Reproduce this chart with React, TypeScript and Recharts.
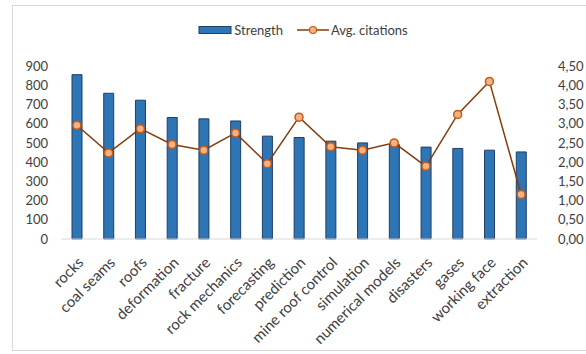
import {
  ComposedChart,
  Bar,
  Line,
  XAxis,
  YAxis,
  Legend,
} from "recharts";

const keywords = [
  "rocks",
  "coal seams",
  "roofs",
  "deformation",
  "fracture",
  "rock mechanics",
  "forecasting",
  "prediction",
  "mine roof control",
  "simulation",
  "numerical models",
  "disasters",
  "gases",
  "working face",
  "extraction",
];
const strength = [855, 758, 722, 632, 625, 614, 535, 528, 509, 500, 491, 478, 471, 462, 453];
const avgCitations = [2.96, 2.24, 2.87, 2.46, 2.31, 2.76, 1.96, 3.17, 2.4, 2.31, 2.5, 1.89, 3.24, 4.1, 1.16];
const leftTicks = [0, 100, 200, 300, 400, 500, 600, 700, 800, 900];
const rightTicks = [0, 0.5, 1, 1.5, 2, 2.5, 3, 3.5, 4, 4.5];

const data = keywords.map((k, i) => ({
  keyword: k,
  Strength: strength[i],
  "Avg. citations": avgCitations[i],
}));

const FONT = "Lato, 'Open Sans', sans-serif";
const BAR_FILL = "#2e75b6";
const BAR_EDGE = "#1f3f66";
const LINE = "#843c0c";
const DOT_FILL = "#f4b183";
const DOT_EDGE = "#c55a11";

const LegendContent = () => (
  <div
    style={{
      display: "flex",
      justifyContent: "center",
      alignItems: "center",
      paddingLeft: 20,
      fontFamily: FONT,
      fontSize: 13,
      color: "#404040",
      gap: 14,
    }}
  >
    <span style={{ display: "flex", alignItems: "center" }}>
      <svg width={34} height={10}>
        <rect x={1} y={1.5} width={32} height={7} fill={BAR_FILL} stroke={BAR_EDGE} />
      </svg>
      <span style={{ marginLeft: 2 }}>Strength</span>
    </span>
    <span style={{ display: "flex", alignItems: "center" }}>
      <svg width={32} height={10}>
        <line x1={0} y1={5} x2={32} y2={5} stroke={LINE} strokeWidth={1.5} />
        <circle cx={16} cy={5} r={3.5} fill={DOT_FILL} stroke={DOT_EDGE} strokeWidth={1.2} />
      </svg>
      <span style={{ marginLeft: 2 }}>Avg. citations</span>
    </span>
  </div>
);

const App = () => {
  return (
    <div
      style={{
        position: "absolute",
        left: 0,
        top: 0,
        width: 586,
        height: 354,
        background: "#fff",
        overflow: "hidden",
      }}
    >
      <div
        style={{
          position: "absolute",
          left: 12,
          top: 5,
          width: 590,
          height: 344,
          border: "1px solid #d9d9d9",
        }}
      />
      <ComposedChart
        width={586}
        height={354}
        data={data}
        margin={{ top: 66, right: 9, left: 11, bottom: 15 }}
        style={{ position: "absolute", left: 0, top: 0 }}
      >
        <XAxis
          dataKey="keyword"
          interval={0}
          angle={-45}
          textAnchor="end"
          height={100}
          tickLine={false}
          tickSize={0}
          tickMargin={17}
          axisLine={{ stroke: "#d9d9d9" }}
          tick={{ fill: "#404040", fontSize: 15, fontFamily: FONT }}
        />
        <YAxis
          yAxisId="left"
          domain={[0, 900]}
          ticks={leftTicks}
          interval={0}
          width={50}
          axisLine={false}
          tickLine={false}
          tickSize={0}
          tickMargin={13}
          tick={{ fill: "#404040", fontSize: 13, fontFamily: FONT }}
        />
        <YAxis
          yAxisId="right"
          orientation="right"
          domain={[0, 4.5]}
          ticks={rightTicks}
          interval={0}
          width={40}
          axisLine={false}
          tickLine={false}
          tickSize={0}
          tickMargin={21}
          tickFormatter={(v: number) => v.toFixed(2).replace(".", ",")}
          tick={{ fill: "#404040", fontSize: 13, fontFamily: FONT, textAnchor: "start" }}
        />
        <Legend
          verticalAlign="middle"
          layout="horizontal"
          content={<LegendContent />}
          wrapperStyle={{ top: 22, left: 0, width: 586 }}
        />
        <Bar
          yAxisId="left"
          dataKey="Strength"
          barSize={10}
          fill={BAR_FILL}
          stroke={BAR_EDGE}
          strokeWidth={1}
          isAnimationActive={false}
        />
        <Line
          yAxisId="right"
          dataKey="Avg. citations"
          stroke={LINE}
          strokeWidth={1.5}
          dot={{ r: 4, fill: DOT_FILL, stroke: DOT_EDGE, strokeWidth: 1.5 }}
          activeDot={false}
          isAnimationActive={false}
        />
      </ComposedChart>
    </div>
  );
};

export default App;
